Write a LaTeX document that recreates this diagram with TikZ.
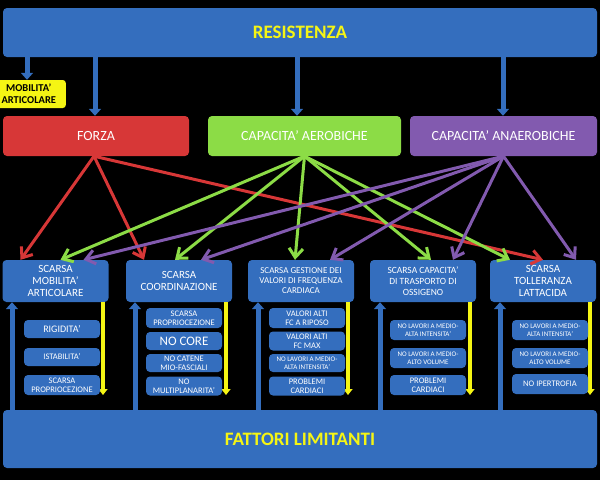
\documentclass[tikz,border=0pt]{standalone}
\usepackage{fontspec}
\setmainfont{Carlito}
\usetikzlibrary{arrows.meta}
\definecolor{bx}{RGB}{52,110,190}
\definecolor{rd}{RGB}{215,55,55}
\definecolor{gr}{RGB}{140,220,70}
\definecolor{pu}{RGB}{130,90,175}
\definecolor{yl}{RGB}{245,245,20}
\begin{document}
\begin{tikzpicture}[x=1pt,y=-1pt,
 box/.style={draw=none,rounded corners=4pt,text=white,align=center,inner sep=1pt},
 sub/.style={box,fill=bx,minimum width=76pt,font=\fontsize{8.5}{9}\selectfont},
 subs/.style={sub,font=\fontsize{7}{8}\selectfont},
 low/.style={box,fill=bx,minimum width=106pt,minimum height=42pt,font=\fontsize{11}{12}\selectfont},
 top/.style={box,minimum height=40pt,font=\fontsize{14}{16}\selectfont},
 barr/.style={line width=5pt,draw=bx,-{Triangle[length=7pt,width=12pt]}},
 yarr/.style={line width=4pt,draw=yl,-{Triangle[length=6pt,width=9pt]}},
 ln/.style={line width=3pt,-{Straight Barb[length=9pt,width=14pt]}}]
\useasboundingbox (0,0) rectangle (600,480);
\fill[black] (0,0) rectangle (600,480);
\node[box,fill=bx,minimum width=594pt,minimum height=49pt,text=yl,font=\bfseries\fontsize{19}{22}\selectfont] (res) at (300,32.5) {RESISTENZA};
\node[box,fill=yl,text=black,minimum width=74pt,minimum height=28pt,font=\bfseries\fontsize{10.5}{12}\selectfont,rounded corners=3pt,anchor=east] (mob) at (66,94) {MOBILITA'\\ARTICOLARE};
\node[top,fill=rd,minimum width=186pt] (forza) at (96,136) {FORZA};
\node[top,fill=gr,minimum width=193pt] (aer) at (304.5,136) {CAPACITA' AEROBICHE};
\node[top,fill=pu,minimum width=187pt] (ana) at (503.5,136) {CAPACITA' ANAEROBICHE};
\coordinate (r1) at (27,57); \coordinate (r2) at (95,57); \coordinate (r3) at (297,57); \coordinate (r4) at (503,57);
\draw[barr] (r1) -- (mob.north -| r1);
\draw[barr] (r2) -- (forza.north -| r2);
\draw[barr] (r3) -- (aer.north -| r3);
\draw[barr] (r4) -- (ana.north -| r4);
\node[box,fill=bx,minimum width=594pt,minimum height=58pt,text=yl,font=\bfseries\fontsize{19}{22}\selectfont] (fat) at (300,439) {FATTORI LIMITANTI};
\node[low] (b1) at (55.5,281) {SCARSA\\MOBILITA'\\ARTICOLARE};
\node[low] (b2) at (179,281) {SCARSA\\COORDINAZIONE};
\node[low,font=\fontsize{9}{10}\selectfont] (b3) at (301,281) {SCARSA GESTIONE DEI\\VALORI DI FREQUENZA\\CARDIACA};
\node[low,font=\fontsize{9.5}{11}\selectfont] (b4) at (423,281) {SCARSA CAPACITA'\\DI TRASPORTO DI\\OSSIGENO};
\node[low] (b5) at (543,281) {SCARSA\\TOLLERANZA\\LATTACIDA};
\foreach \i/\x in {1/12,2/135,3/258,4/380,5/500}{
 \coordinate (u\i) at (\x,410);
 \draw[barr] (u\i) -- (b\i.south -| u\i);}
\foreach \i/\x in {1/103,2/226,3/348,4/470,5/590}{
 \coordinate (d\i) at (\x,395);
 \draw[yarr] (b\i.south -| d\i) -- (d\i);}
\node[sub,minimum height=18pt,font=\fontsize{10}{11}\selectfont] (s11) at (62,329) {RIGIDITA'};
\node[sub,minimum height=18pt] (s12) at (62,357) {ISTABILITA'};
\node[sub,minimum height=20pt] (s13) at (62,385) {SCARSA\\PROPRIOCEZIONE};
\node[sub,minimum height=20pt] (s21) at (184,318) {SCARSA\\PROPRIOCEZIONE};
\node[sub,minimum height=18pt,font=\fontsize{13}{14}\selectfont] (s22) at (184,341) {NO CORE};
\node[sub,minimum height=18pt] (s23) at (184,363) {NO CATENE\\MIO-FASCIALI};
\node[sub,minimum height=19pt] (s24) at (184,386) {NO\\MULTIPLANARITA'};
\node[sub,minimum height=20pt] (s31) at (307,318) {VALORI ALTI\\FC A RIPOSO};
\node[sub,minimum height=19pt] (s32) at (307,341) {VALORI ALTI\\FC MAX};
\node[subs,minimum height=18pt] (s33) at (307,363) {NO LAVORI A MEDIO-\\ALTA INTENSITA'};
\node[sub,minimum height=19pt] (s34) at (307,386) {PROBLEMI\\CARDIACI};
\node[subs,minimum height=20pt] (s41) at (428,330) {NO LAVORI A MEDIO-\\ALTA INTENSITA'};
\node[subs,minimum height=20pt] (s42) at (428,358) {NO LAVORI A MEDIO-\\ALTO VOLUME};
\node[sub,minimum height=20pt] (s43) at (428,385) {PROBLEMI\\CARDIACI};
\node[subs,minimum height=20pt] (s51) at (550,330) {NO LAVORI A MEDIO-\\ALTA INTENSITA'};
\node[subs,minimum height=20pt] (s52) at (550,358) {NO LAVORI A MEDIO-\\ALTO VOLUME};
\node[sub,minimum height=20pt] (s53) at (550,384) {NO IPERTROFIA};
\draw[ln,rd] ([xshift=-2pt]forza.south) -- ([xshift=-35pt]b1.north);
\draw[ln,rd] ([xshift=-2pt]forza.south) -- ([xshift=-35pt]b2.north);
\draw[ln,rd] ([xshift=-2pt]forza.south) -- ([xshift=0pt]b5.north);
\draw[ln,gr] (aer.south) -- ([xshift=5pt]b1.north);
\draw[ln,gr] (aer.south) -- ([xshift=-4pt]b2.north);
\draw[ln,gr] (aer.south) -- ([xshift=-6pt]b3.north);
\draw[ln,gr] (aer.south) -- ([xshift=8pt]b4.north);
\draw[ln,gr] (aer.south) -- ([xshift=-33pt]b5.north);
\draw[ln,pu] (ana.south) -- ([xshift=28pt]b1.north);
\draw[ln,pu] (ana.south) -- ([xshift=22pt]b2.north);
\draw[ln,pu] (ana.south) -- ([xshift=29pt]b3.north);
\draw[ln,pu] (ana.south) -- ([xshift=30pt]b4.north);
\draw[ln,pu] (ana.south) -- ([xshift=33pt]b5.north);
\end{tikzpicture}
\end{document}
